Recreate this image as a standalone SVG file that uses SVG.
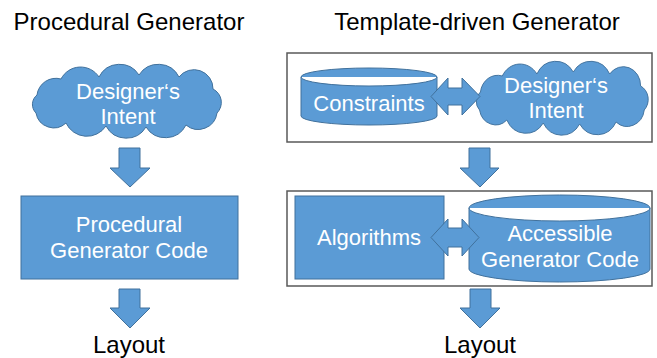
<svg xmlns="http://www.w3.org/2000/svg" width="657" height="358" viewBox="0 0 657 358">
<style>
.shape{fill:#5B9BD5;stroke:#41719C;stroke-width:1}
.frame{fill:none;stroke:#595959;stroke-width:1.5}
.lbl{font-family:"Liberation Sans",Arial,sans-serif;font-size:22px;fill:#FFFFFF;text-anchor:middle}
.title{font-family:"Liberation Sans",Arial,sans-serif;font-size:24px;fill:#000000;text-anchor:middle}
</style>
<defs>
<path id="cloud" d="M6,30 A19,19 0 0 1 30,14 A22,22 0 0 1 68,12 A23,23 0 0 1 108,10 A23,23 0 0 1 148,12 A19,19 0 0 1 182,24 A15,15 0 0 1 186,48 A19,19 0 0 1 155,60 A23,23 0 0 1 115,62 A23,23 0 0 1 75,61 A23,23 0 0 1 35,58 A18,18 0 0 1 5,48 A12,12 0 0 1 6,30 Z"/>
</defs>
<g id="titles">
<text class="title" x="129" y="30">Procedural Generator</text>
<text class="title" x="477" y="30">Template-driven Generator</text>
</g>
<g id="frames">
<rect class="frame" x="287" y="53" width="365" height="89"/>
<rect class="frame" x="287" y="191" width="365" height="95"/>
</g>
<g id="intent-left">
<use href="#cloud" class="shape" transform="translate(31,65)"/>
<text class="lbl" x="128" y="99">Designer‘s</text>
<text class="lbl" x="128" y="124">Intent</text>
</g>
<g id="procedural-code">
<rect class="shape" x="21" y="196" width="217" height="83"/>
<text class="lbl" x="129" y="232">Procedural</text>
<text class="lbl" x="129" y="258">Generator Code</text>
</g>
<g id="constraints">
<path class="shape" d="M301,77 A68,9 0 0 1 437,77 V116 A68,9 0 0 1 301,116 Z M301,77 A68,9 0 0 0 437,77"/>
<text class="lbl" x="369" y="111">Constraints</text>
</g>
<g id="intent-right">
<use href="#cloud" class="shape" transform="translate(475,62) scale(0.91,1)"/>
<text class="lbl" x="556" y="93">Designer‘s</text>
<text class="lbl" x="556" y="118">Intent</text>
</g>
<g id="algorithms">
<rect class="shape" x="295" y="196" width="149" height="83"/>
<text class="lbl" x="369" y="245">Algorithms</text>
</g>
<g id="accessible-code">
<path class="shape" d="M469,208 A90.5,13 0 0 1 650,208 V269 A90.5,13 0 0 1 469,269 Z M469,208 A90.5,13 0 0 0 650,208"/>
<text class="lbl" x="560" y="241">Accessible</text>
<text class="lbl" x="560" y="267">Generator Code</text>
</g>
<g id="layout-left">
<text class="title" x="129" y="353">Layout</text>
</g>
<g id="layout-right">
<text class="title" x="480" y="353">Layout</text>
</g>
<g id="connectors">
<path class="shape" d="M119,148 H140 V168 H150 L130,187 L110,168 H119 Z"/>
<path class="shape" d="M119,289 H140 V308 H150 L130,328 L110,308 H119 Z"/>
<path class="shape" d="M469,148 H490 V168 H499 L480,187 L460,168 H469 Z"/>
<path class="shape" d="M470,289 H491 V308 H500 L480,328 L460,308 H470 Z"/>
<path class="shape" d="M431,96.5 L448,78 V88 H462 V78 L480,96.5 L462,115 V105 H448 V115 Z"/>
<path class="shape" d="M431,237.5 L448,219 V228 H462 V219 L479,237.5 L462,256 V247 H448 V256 Z"/>
</g>
</svg>
